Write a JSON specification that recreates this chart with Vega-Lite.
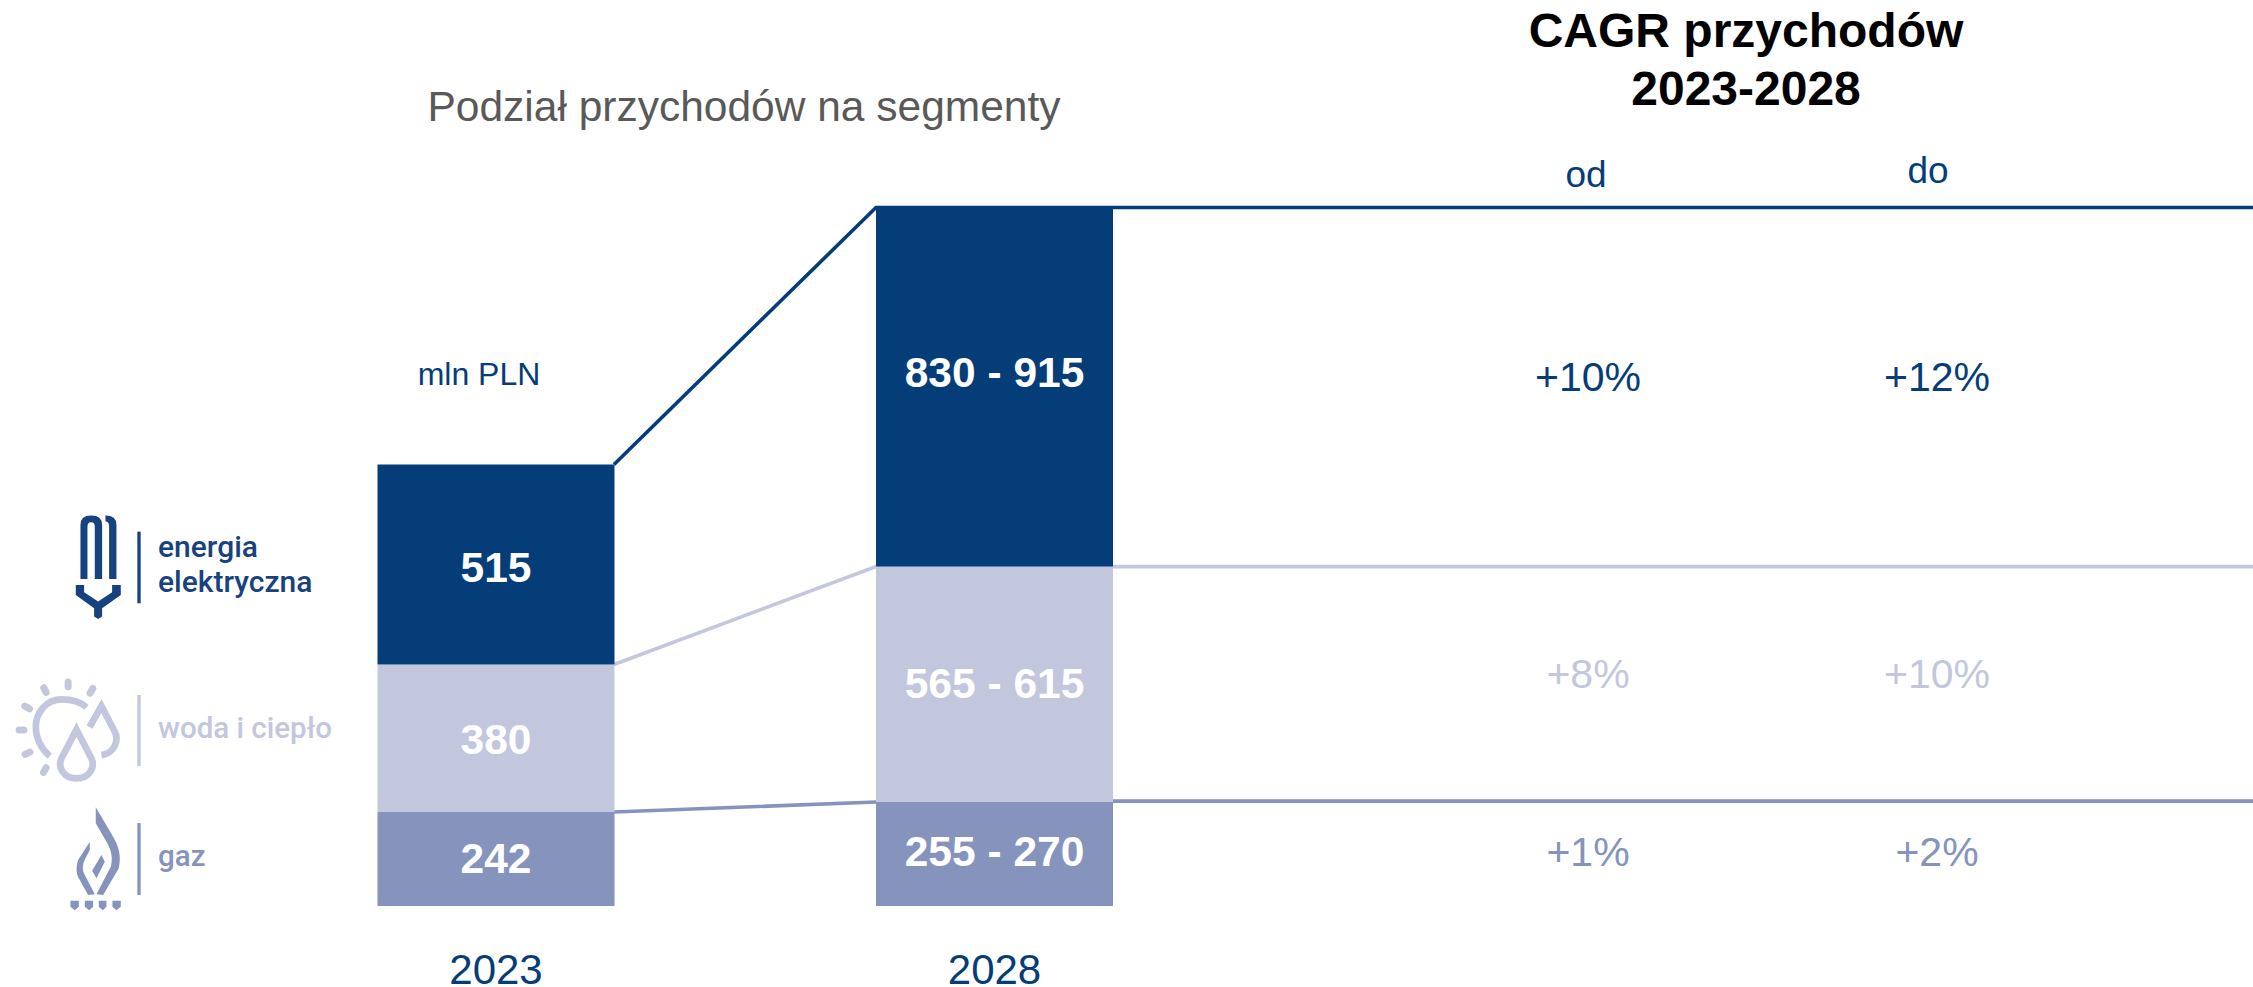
{
"$schema":"https://vega.github.io/schema/vega-lite/v6.json",
"width":2253,"height":987,"padding":0,"autosize":{"type":"none"},"background":"white",
"config":{"view":{"stroke":null},"font":"Liberation Sans"},
"datasets":{
"slupki":[
{"rok":"2023","kolumna":4,"segment":"gaz","kolejnosc":1,"wartosc":242},
{"rok":"2023","kolumna":4,"segment":"woda i ciepło","kolejnosc":2,"wartosc":380},
{"rok":"2023","kolumna":4,"segment":"energia elektryczna","kolejnosc":3,"wartosc":515},
{"rok":"2028","kolumna":8,"segment":"gaz","kolejnosc":1,"wartosc":268},
{"rok":"2028","kolumna":8,"segment":"woda i ciepło","kolejnosc":2,"wartosc":606},
{"rok":"2028","kolumna":8,"segment":"energia elektryczna","kolejnosc":3,"wartosc":925}
],
"laczniki":[
{"segment":"energia elektryczna","kolumna":5,"poziom":1137},
{"segment":"energia elektryczna","kolumna":7,"poziom":1799},
{"segment":"energia elektryczna","kolumna":9,"poziom":1799},
{"segment":"energia elektryczna","kolumna":15,"poziom":1799},
{"segment":"woda i ciepło","kolumna":5,"poziom":622},
{"segment":"woda i ciepło","kolumna":7,"poziom":874},
{"segment":"woda i ciepło","kolumna":9,"poziom":874},
{"segment":"woda i ciepło","kolumna":15,"poziom":874},
{"segment":"gaz","kolumna":5,"poziom":242},
{"segment":"gaz","kolumna":7,"poziom":268},
{"segment":"gaz","kolumna":9,"poziom":270},
{"segment":"gaz","kolumna":15,"poziom":270}
],
"etykiety":[
{"rodzaj":"wartosc","tekst":"515","kolumna":4,"poziom":868},
{"rodzaj":"wartosc","tekst":"380","kolumna":4,"poziom":425},
{"rodzaj":"wartosc","tekst":"242","kolumna":4,"poziom":119},
{"rodzaj":"wartosc","tekst":"830 - 915","kolumna":8,"poziom":1370},
{"rodzaj":"wartosc","tekst":"565 - 615","kolumna":8,"poziom":570},
{"rodzaj":"wartosc","tekst":"255 - 270","kolumna":8,"poziom":137},
{"rodzaj":"cagr","tekst":"+10%","kolumna":11,"poziom":1356,"segment":"energia elektryczna"},
{"rodzaj":"cagr","tekst":"+12%","kolumna":14,"poziom":1356,"segment":"energia elektryczna"},
{"rodzaj":"cagr","tekst":"+8%","kolumna":11,"poziom":593,"segment":"woda i ciepło"},
{"rodzaj":"cagr","tekst":"+10%","kolumna":14,"poziom":593,"segment":"woda i ciepło"},
{"rodzaj":"cagr","tekst":"+1%","kolumna":11,"poziom":135,"segment":"gaz"},
{"rodzaj":"cagr","tekst":"+2%","kolumna":14,"poziom":135,"segment":"gaz"},
{"rodzaj":"rok","tekst":"2023","kolumna":4,"poziom":-167},
{"rodzaj":"rok","tekst":"2028","kolumna":8,"poziom":-167},
{"rodzaj":"naglowek","tekst":"od","kolumna":10,"poziom":1881},
{"rodzaj":"naglowek","tekst":"do","kolumna":13,"poziom":1891},
{"rodzaj":"tytul","tekst":"CAGR przychodów","kolumna":12,"poziom":2249},
{"rodzaj":"tytul","tekst":"2023-2028","kolumna":12,"poziom":2099},
{"rodzaj":"podtytul","tekst":"Podział przychodów na segmenty","kolumna":6,"poziom":2056},
{"rodzaj":"jednostka","tekst":"mln PLN","kolumna":3,"poziom":1367},
{"rodzaj":"legenda","tekst":"energia","kolumna":2,"poziom":900,"segment":"energia elektryczna"},
{"rodzaj":"legenda","tekst":"elektryczna","kolumna":2,"poziom":809,"segment":"energia elektryczna"},
{"rodzaj":"legenda","tekst":"woda i ciepło","kolumna":2,"poziom":433,"segment":"woda i ciepło"},
{"rodzaj":"legenda","tekst":"gaz","kolumna":2,"poziom":103,"segment":"gaz"}
],
"logotypy":[
{"segment":"energia elektryczna","kolumna":0,"poziom":874,"sepGora":964,"sepDol":779.5},
{"segment":"woda i ciepło","kolumna":0,"poziom":453,"sepGora":543.4,"sepDol":360.5},
{"segment":"gaz","kolumna":0,"poziom":127,"sepGora":213.8,"sepDol":28.3}
]
},
"encoding":{
"x":{"field":"kolumna","type":"quantitative","axis":null,"scale":{"type":"linear","zero":false,"nice":false,
"domain":[0,1,2,3,4,5,6,7,8,9,10,11,12,13,14,15],
"range":[95,139,158,479,496,614,744,876,994.5,1113,1586,1588,1746,1928,1937,2300]}},
"y":{"field":"poziom","type":"quantitative","axis":null,"scale":{"domain":[-208.6,2333.2],"nice":false,"zero":false}}
},
"layer":[
{"data":{"name":"laczniki"},"mark":{"type":"line","strokeWidth":3.6,"interpolate":"linear"},
 "encoding":{"color":{"field":"segment","type":"nominal","legend":null,"scale":{"domain":["energia elektryczna","woda i ciepło","gaz"],"range":["#053D78","#C2C7DD","#8593BD"]}}}},
{"data":{"name":"slupki"},"mark":{"type":"bar","size":237,"orient":"vertical"},
 "encoding":{"y":{"field":"wartosc","type":"quantitative","axis":null,"stack":"zero","scale":{"domain":[-208.6,2333.2],"nice":false,"zero":false}},
 "color":{"field":"segment","type":"nominal","legend":null},
 "order":{"field":"kolejnosc","type":"quantitative"}}},
{"data":{"name":"etykiety"},"transform":[{"filter":"datum.rodzaj==='wartosc'"}],"mark":{"type":"text","fontSize":42.5,"fontWeight":"bold","color":"white","baseline":"middle","align":"center"},"encoding":{"text":{"field":"tekst"}}},
{"data":{"name":"etykiety"},"transform":[{"filter":"datum.rodzaj==='cagr'"}],"mark":{"type":"text","fontSize":41,"baseline":"middle","align":"center"},"encoding":{"text":{"field":"tekst"},"color":{"field":"segment","type":"nominal","legend":null}}},
{"data":{"name":"etykiety"},"transform":[{"filter":"datum.rodzaj==='rok'"}],"mark":{"type":"text","fontSize":42,"color":"#053D78","baseline":"middle","align":"center"},"encoding":{"text":{"field":"tekst"}}},
{"data":{"name":"etykiety"},"transform":[{"filter":"datum.rodzaj==='naglowek'"}],"mark":{"type":"text","fontSize":37,"color":"#053D78","baseline":"middle","align":"center"},"encoding":{"text":{"field":"tekst"}}},
{"data":{"name":"etykiety"},"transform":[{"filter":"datum.rodzaj==='tytul'"}],"mark":{"type":"text","fontSize":48,"fontWeight":"bold","color":"black","baseline":"middle","align":"center"},"encoding":{"text":{"field":"tekst"}}},
{"data":{"name":"etykiety"},"transform":[{"filter":"datum.rodzaj==='podtytul'"}],"mark":{"type":"text","fontSize":42.5,"color":"#595959","baseline":"middle","align":"center"},"encoding":{"text":{"field":"tekst"}}},
{"data":{"name":"etykiety"},"transform":[{"filter":"datum.rodzaj==='jednostka'"}],"mark":{"type":"text","fontSize":32,"color":"#053D78","baseline":"middle","align":"center"},"encoding":{"text":{"field":"tekst"}}},
{"data":{"name":"etykiety"},"transform":[{"filter":"datum.rodzaj==='legenda' && datum.segment==='energia elektryczna'"}],"mark":{"type":"text","font":"Roboto","fontWeight":500,"fontSize":30,"color":"#17427F","baseline":"alphabetic","align":"left"},"encoding":{"text":{"field":"tekst"}}},
{"data":{"name":"etykiety"},"transform":[{"filter":"datum.rodzaj==='legenda' && datum.segment!=='energia elektryczna'"}],"mark":{"type":"text","font":"Roboto","fontWeight":500,"fontSize":29.5,"baseline":"alphabetic","align":"left"},"encoding":{"text":{"field":"tekst"},"color":{"field":"segment","type":"nominal","legend":null}}},
{"data":{"name":"logotypy"},"transform":[{"filter":"datum.segment==='energia elektryczna'"}],"mark":{"type":"rule","strokeWidth":3.3,"color":"#17427F"},"encoding":{"x":{"datum":1,"type":"quantitative"},"y":{"field":"sepGora","type":"quantitative"},"y2":{"field":"sepDol"}}},
{"data":{"name":"logotypy"},"transform":[{"filter":"datum.segment!=='energia elektryczna'"}],"mark":{"type":"rule","strokeWidth":3.3},"encoding":{"x":{"datum":1,"type":"quantitative"},"y":{"field":"sepGora","type":"quantitative"},"y2":{"field":"sepDol"},"color":{"field":"segment","type":"nominal","legend":null}}},
{"data":{"name":"logotypy"},"transform":[{"filter":"datum.segment==='energia elektryczna'"}],
 "mark":{"type":"point","filled":true,"opacity":1,"size":0.4444,"color":"#17427F","strokeWidth":0,
 "shape":"M-48,37 L-48,-125 Q-48,-153 -16,-153 Q17,-153 17,-125 L17,37 L-5,37 L-5,-120 Q-5,-133 -16,-133 Q-27,-133 -27,-120 L-27,37 Z M27,-153 Q60,-153 60,-125 L60,37 L38,37 L38,-120 Q38,-135 27,-135 Z M-62,55 L-37,55 L-37,77 L5,105 L47,77 L47,55 L73,55 L73,85 L17,125 L17,150 L5,157 L-7,150 L-7,125 L-62,85 Z"}},
{"data":{"name":"logotypy"},"transform":[{"filter":"datum.segment==='gaz'"}],
 "mark":{"type":"point","filled":true,"opacity":1,"size":0.4444,"color":"#8593BD","strokeWidth":0,
 "shape":"M-2,-148 L50,-60 C67,-30 75,-5 67,35 L20,115 L0,113 L43,30 C50,5 45,-20 30,-45 L-2,-100 Z M-20,-45 L-55,10 C-63,35 -60,55 -50,70 L-25,115 L-5,113 L-35,55 C-43,40 -43,25 -33,5 L-20,-20 Z M15,-5 L25,15 L0,65 L-13,42 Z M-78,132 L-53,132 L-53,150 L-65,161 L-78,150 Z M-35,132 L-10,132 L-10,150 L-22,161 L-35,150 Z M7,132 L30,132 L30,150 L19,161 L7,150 Z M48,132 L73,132 L73,150 L60,161 L48,150 Z"}},
{"data":{"name":"logotypy"},"transform":[{"filter":"datum.segment==='woda i ciepło'"}],
 "mark":{"type":"point","filled":false,"opacity":1,"size":0.4444,"color":"#C2C7DD","strokeWidth":6.7,
 "shape":"M-30,-68 C-48,-85 -78,-92 -105,-92 C-148,-92 -182,-55 -182,-10 C-182,25 -165,58 -140,78 M-60,-2 L-105,85 C-118,115 -95,145 -60,145 C-25,145 -2,115 -15,85 Z M-21,-9 L15,-72 L55,5 C70,35 50,70 15,75"}},
{"data":{"name":"logotypy"},"transform":[{"filter":"datum.segment==='woda i ciepło'"}],
 "mark":{"type":"point","filled":false,"opacity":1,"size":0.4444,"color":"#C2C7DD","strokeWidth":7,"strokeCap":"round",
 "shape":"M-85,-144 L-85,-130 M-158,-127 L-151,-113 M-11,-125 L-19,-111 M-215,-72 L-201,-64 M-232,0 L-218,0 M-214,73 L-200,66 M-151,113 L-159,127"}}
]
}
